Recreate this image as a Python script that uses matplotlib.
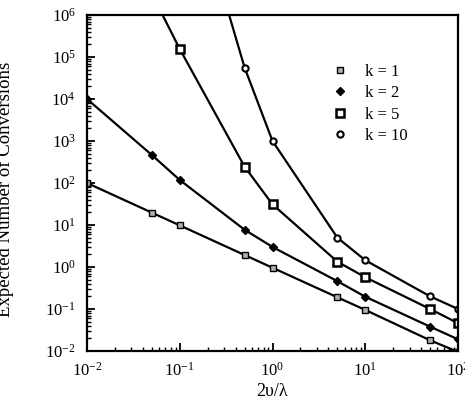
import numpy as np
import matplotlib
matplotlib.use("Agg")
import matplotlib.pyplot as plt
from matplotlib.lines import Line2D

plt.rcParams['font.family'] = ['Liberation Serif', 'DejaVu Serif']
plt.rcParams['mathtext.fontset'] = 'stix'

# x values (2v/lambda) and expected number of conversions per k
x_k1 = [0.01, 0.05, 0.1, 0.5, 1, 5, 10, 50, 100]
y_k1 = [100, 19.7, 9.8, 1.93, 0.96, 0.19, 0.095, 0.018, 0.0095]

x_k2 = [0.01, 0.05, 0.1, 0.5, 1, 5, 10, 50, 100]
y_k2 = [1.0e4, 464, 118, 7.7, 3.0, 0.46, 0.196, 0.038, 0.019]

x_k5 = [0.05, 0.1, 0.5, 1, 5, 10, 50, 100]
y_k5 = [3.2e6, 1.55e5, 245, 31, 1.34, 0.57, 0.1, 0.046]

x_k10 = [0.1, 0.5, 1, 5, 10, 50, 100]
y_k10 = [1.0e10, 5.6e4, 1000, 5.0, 1.45, 0.2, 0.1]

labels = ['k = 1', 'k = 2', 'k = 5', 'k = 10']

fig = plt.figure(figsize=(4.65, 4.08), dpi=100)
ax = fig.add_axes([87/465, 1 - 351/408, (458 - 87)/465, (351 - 15)/408])

styles = [
    dict(marker='s', ms=5, mfc='#b0b0b0', mec='black', mew=1.0),
    dict(marker='D', ms=4, mfc='black', mec='black', mew=1.0),
    dict(marker='s', ms=5.5, mfc='white', mec='black', mew=1.8),
    dict(marker='o', ms=4.5, mfc='white', mec='black', mew=1.5),
]

for (xs, ys), st in zip([(x_k1, y_k1), (x_k2, y_k2), (x_k5, y_k5), (x_k10, y_k10)], styles):
    ax.plot(xs, ys, color='black', lw=1.6, **st)

ax.set_xscale('log')
ax.set_yscale('log')
ax.set_xlim(1e-2, 1e2)
ax.set_ylim(1e-2, 1e6)

ax.tick_params(which='both', direction='in', top=False, right=False, labelsize=12)
ax.tick_params(which='major', length=6, width=1.3, pad=8)
ax.tick_params(which='minor', length=3, width=1.0)
for s in ax.spines.values():
    s.set_linewidth(1.6)

ax.set_xlabel('2\u03c5/\u03bb', fontsize=13, labelpad=2)
fig.text(5/465, 1 - 189/408, 'Expected Number of Conversions', rotation=90,
         fontsize=13.5, ha='center', va='center')

handles = [Line2D([], [], linestyle='none', color='black', **st) for st in styles]
ax.legend(handles, labels, frameon=False, loc='upper left',
          bbox_to_anchor=(0.62, 0.9), fontsize=12, handlelength=1.0,
          handletextpad=1.0, labelspacing=0.33)

fig.savefig('out.png', dpi=100)
